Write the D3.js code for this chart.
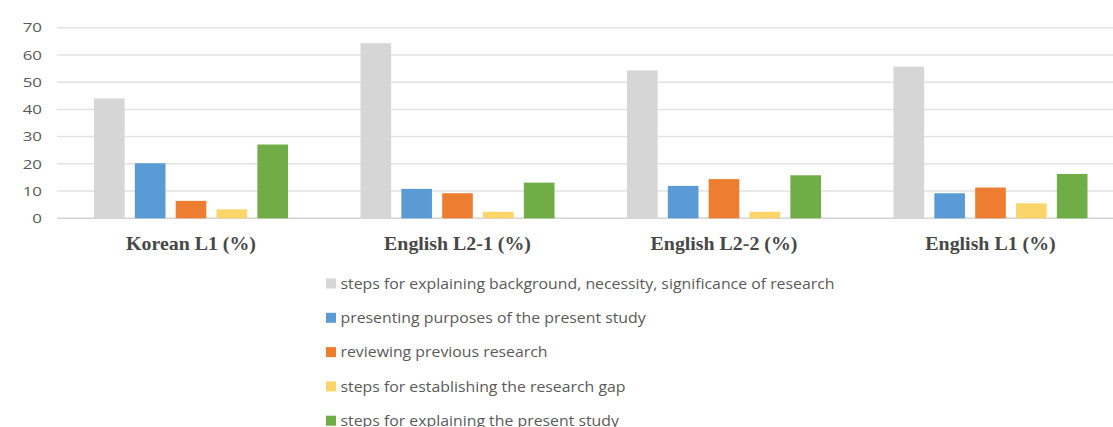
<!DOCTYPE html>
<html>
<head>
<meta charset="utf-8">
<script src="https://cdn.jsdelivr.net/npm/d3@7"></script>
<style>
  body { margin: 0; background: #fff; }
  svg { display: block; }
</style>
</head>
<body>
<div id="chart"></div>
<script>
(function () {

    const categories = ['Korean L1 (%)', 'English L2-1 (%)', 'English L2-2 (%)', 'English L1 (%)']
    const seriesNames = [
        'steps for explaining background, necessity, significance of research',
        'presenting purposes of the present study',
        'reviewing previous research',
        'steps for establishing the research gap',
        'steps for explaining the present study'
    ]
    const background = [44, 64.3, 54.3, 55.7]
    const purposes = [20.2, 10.8, 11.9, 9.2]
    const previous = [6.4, 9.2, 14.4, 11.3]
    const gap = [3.3, 2.4, 2.4, 5.5]
    const presentStudy = [27.1, 13.1, 15.8, 16.3]
    const yTicks = [0, 10, 20, 30, 40, 50, 60, 70]

    const seriesValues = [background, purposes, previous, gap, presentStudy]
    const colors = ['#d6d6d6', '#5b9bd5', '#ed7d31', '#fcd56a', '#70ad47']

    const width = 1113
    const height = 427

    const svg = d3.select('#chart')
        .append('svg')
        .attr('width', width)
        .attr('height', height)

    const y = d3.scaleLinear()
        .domain([0, 70])
        .range([218.3, 27.7])

    const x = d3.scaleBand()
        .domain(categories)
        .range([58, 1124])

    const xInner = d3.scaleBand()
        .domain(d3.range(seriesNames.length))
        .range([36, 230])
        .paddingInner(0.25)

    // gridlines
    svg.append('g')
        .selectAll('line')
        .data(yTicks)
        .join('line')
        .attr('x1', 57)
        .attr('x2', width)
        .attr('y1', d => y(d))
        .attr('y2', d => y(d))
        .attr('stroke', d => d === 0 ? '#d4d4d4' : '#e2e2e2')
        .attr('stroke-width', 1.5)

    // y tick labels
    svg.append('g')
        .selectAll('text')
        .data(yTicks)
        .join('text')
        .attr('transform', d => `translate(42,${y(d)}) scale(1.3,1)`)
        .attr('text-anchor', 'end')
        .attr('dy', '0.36em')
        .style('font-family', '"Open Sans", sans-serif')
        .style('font-size', '13px')
        .attr('fill', '#595959')
        .text(d => d)

    // bars
    const rows = categories.map((c, i) => ({
        cat: c,
        vals: seriesValues.map((s, j) => ({ j: j, v: s[i] }))
    }))

    const groups = svg.append('g')
        .selectAll('g')
        .data(rows)
        .join('g')
        .attr('transform', d => `translate(${x(d.cat)},0)`)

    groups.selectAll('rect')
        .data(d => d.vals)
        .join('rect')
        .attr('x', d => xInner(d.j))
        .attr('width', xInner.bandwidth())
        .attr('y', d => y(d.v))
        .attr('height', d => y(0) - y(d.v))
        .attr('fill', d => colors[d.j])

    // category labels
    svg.append('g')
        .selectAll('text')
        .data(categories)
        .join('text')
        .attr('transform', d => `translate(${x(d) + xInner(0) + (xInner(4) + xInner.bandwidth() - xInner(0)) / 2},250) scale(1.075,1)`)
        .attr('text-anchor', 'middle')
        .style('font-family', '"Liberation Serif", serif')
        .style('font-weight', 'bold')
        .style('font-size', '18.5px')
        .attr('fill', '#474747')
        .text(d => d)

    // legend
    const legend = svg.append('g')
        .selectAll('g')
        .data(seriesNames)
        .join('g')
        .attr('transform', (d, i) => `translate(326,${283.5 + i * 34.3})`)

    legend.append('rect')
        .attr('x', 0)
        .attr('y', -5)
        .attr('width', 10)
        .attr('height', 10)
        .attr('fill', (d, i) => colors[i])

    const legendText = legend.append('text')
        .attr('x', 14.5)
        .attr('dy', '0.35em')
        .style('font-family', '"Open Sans", sans-serif')
        .style('font-size', '15px')
        .attr('fill', '#5a5a5a')
        .text(d => d)

    // source legend text is wider than Open Sans; stretch to match first row width (~494px)
    const w0 = legendText.node().getComputedTextLength()
    const k = 494 / w0
    legendText.each(function () {
        const w = this.getComputedTextLength()
        d3.select(this).attr('textLength', w * k).attr('lengthAdjust', 'spacingAndGlyphs')
    })

})();
</script>
</body>
</html>
